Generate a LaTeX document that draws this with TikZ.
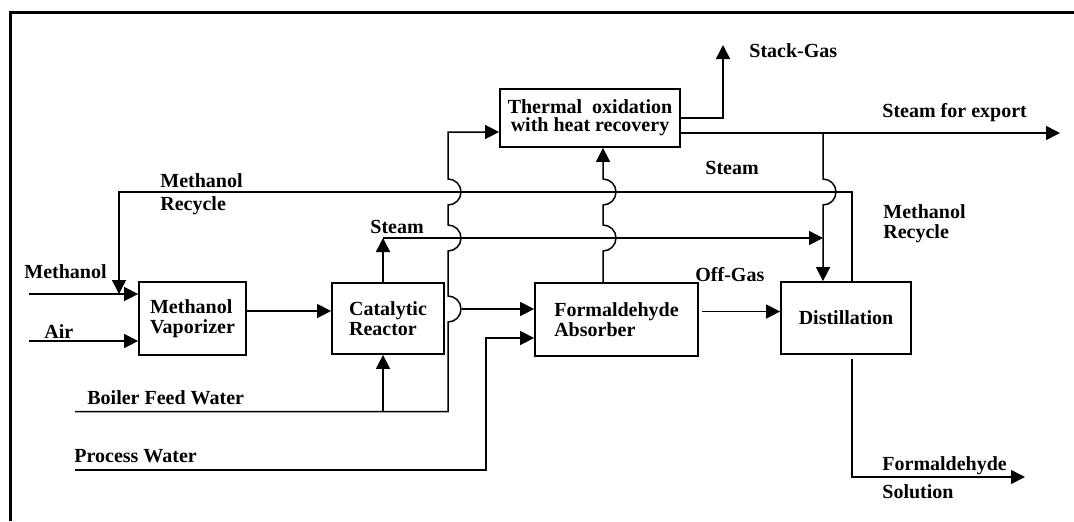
\documentclass[tikz,border=0pt]{standalone}
\usepackage{fontspec}
\setmainfont{Liberation Serif}
\usetikzlibrary{arrows.meta}
\begin{document}
\begin{tikzpicture}[x=0.5pt,y=-0.5pt,
  unit/.style={draw,line width=0.9pt,inner sep=0pt,align=left,font=\fontsize{10pt}{10pt}\selectfont\bfseries},
  lbl/.style={inner sep=0pt,anchor=base west,font=\fontsize{10pt}{10pt}\selectfont\bfseries},
  flow/.style={line width=0.75pt},
  arr/.style={flow,-{Triangle[length=7pt,width=7pt]}},
  frame/.style={line width=1.5pt}
]
\useasboundingbox (0,0) rectangle (1074,521);
\draw[frame] (10,521) -- (10,12) -- (1074,12);

% units
\node[unit,minimum width=53.5pt,minimum height=36.5pt] (vap) at (192.5,318.5) {Methanol\\Vaporizer};
\node[unit,minimum width=56pt,minimum height=35.5pt] (cat) at (388,318.5) {Catalytic\\Reactor};
\node[unit,minimum width=81.5pt,minimum height=36.5pt] (abs) at (616.5,319.5) {Formaldehyde\\Absorber};
\node[unit,minimum width=65pt,minimum height=36pt] (dist) at (846,318) {Distillation};
\node[unit,align=center,minimum width=90pt,minimum height=29pt,font=\fontsize{10pt}{9pt}\selectfont\bfseries] (tox) at (590,118) {Thermal\ \ oxidation\\with heat recovery};

% coordinates
\coordinate (mIn) at (29,294);
\coordinate (aIn) at (29,341);
\coordinate (rc1) at (852,192);
\coordinate (rc2) at (119,192);
\coordinate (rcEnd) at (119,294);
\coordinate (y311) at (0,311);
\coordinate (stc) at (383,238);
\coordinate (stEnd) at (823,238);
\coordinate (bfw) at (75,411.7);
\coordinate (bfwR) at (448,411.7);
\coordinate (bfwB) at (383,411.7);
\coordinate (toxIn) at (448,132);
\coordinate (ca) at (462,309);
\coordinate (pw) at (75,470);
\coordinate (pwUp) at (486,338);
\coordinate (ad) at (702,311.5);
\coordinate (ogx) at (603,0);
\coordinate (sg1) at (723,118);
\coordinate (sgEnd) at (723,45);
\coordinate (ex) at (1060,133);
\coordinate (brTop) at (823,133);
\coordinate (out0) at (852,359);
\coordinate (out1) at (852,477);
\coordinate (outEnd) at (1025,477);

% feeds
\draw[arr] (mIn) -- (vap.west |- mIn);
\draw[arr] (aIn) -- (vap.west |- aIn);
% methanol recycle
\draw[arr] (dist.north -| rc1) -- (rc1) -- (rc2) -- (rcEnd);
% vaporizer -> reactor
\draw[arr] (vap.east |- y311) -- (cat.west |- y311);
% steam from reactor
\draw[arr] (cat.north -| stc) -- (stc);
\draw[arr] (stc) -- (stEnd);
% boiler feed water
\draw[arr] (bfw) -- (bfwR) -- (448,322) arc[start angle=90,end angle=-90,radius=13]
  -- (448,251) arc[start angle=90,end angle=-90,radius=13]
  -- (448,205) arc[start angle=90,end angle=-90,radius=13]
  -- (toxIn) -- (tox.west |- toxIn);
\draw[arr] (bfwB) -- (cat.south -| bfwB);
% reactor -> absorber
\draw[arr] (ca) -- (abs.west |- ca);
% process water
\draw[arr] (pw) -- (pw -| pwUp) -- (pwUp) -- (abs.west |- pwUp);
% absorber -> distillation
\draw[arr] (ad) -- (dist.west |- ad);
% off-gas
\draw[arr] (abs.north -| ogx) -- (603,251) arc[start angle=90,end angle=-90,radius=13]
  -- (603,205) arc[start angle=90,end angle=-90,radius=13]
  -- (tox.south -| ogx);
% stack gas
\draw[arr] (tox.east |- sg1) -- (sg1) -- (sgEnd);
% steam for export
\draw[arr] (tox.east |- ex) -- (ex);
% steam to distillation
\draw[arr] (brTop) -- (823,179) arc[start angle=-90,end angle=90,radius=13] -- (dist.north -| brTop);
% product
\draw[arr] (out0) -- (out1) -- (outEnd);

% labels
\node[lbl] (lMeth) at (24,278) {Methanol};
\node[lbl] (lAir) at (44,338) {Air};
\node[lbl] (lRecA1) at (160,187) {Methanol};
\node[lbl] (lRecA2) at (160,210) {Recycle};
\node[lbl] (lSteam1) at (370,233) {Steam};
\node[lbl] (lStack) at (749,57) {Stack-Gas};
\node[lbl] (lExport) at (882,117) {Steam for export};
\node[lbl] (lSteam2) at (705,174) {Steam};
\node[lbl] (lRecB1) at (883,218) {Methanol};
\node[lbl] (lRecB2) at (883,238) {Recycle};
\node[lbl] (lOff) at (695,281) {Off-Gas};
\node[lbl] (lBfw) at (87,404) {Boiler Feed Water};
\node[lbl] (lPw) at (74,462) {Process Water};
\node[lbl] (lForm) at (882,470) {Formaldehyde};
\node[lbl] (lSol) at (882,498) {Solution};
\end{tikzpicture}
\end{document}
